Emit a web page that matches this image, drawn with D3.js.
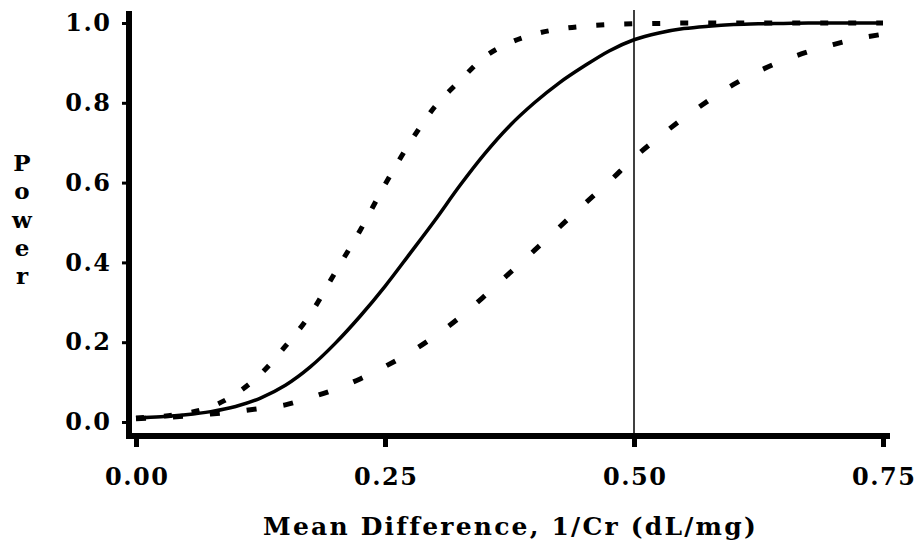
<!DOCTYPE html>
<html>
<head>
<meta charset="utf-8">
<script src="https://cdn.jsdelivr.net/npm/d3@7"></script>
<style>
	body { margin: 0; background: #fff; }
	text { font-family: 'DejaVu Serif', serif; font-weight: bold; fill: #000; }
</style>
</head>
<body>
<svg id="chart"></svg>
<script>
const WIDTH = 915,
	HEIGHT = 543;

// mean difference grid, 1/Cr (dL/mg)
const diffs = [0, 0.025, 0.05, 0.075, 0.1, 0.125, 0.15, 0.175, 0.2, 0.225, 0.25, 0.275, 0.3, 0.325, 0.35,
	0.375, 0.4, 0.425, 0.45, 0.475, 0.5, 0.525, 0.55, 0.575, 0.6, 0.625, 0.65, 0.675, 0.7, 0.725, 0.75];

// power curves
const powerMid = [0.010, 0.013, 0.018, 0.026, 0.039, 0.060, 0.092, 0.138, 0.197, 0.265, 0.340, 0.422, 0.505, 0.592, 0.672,
	0.742, 0.800, 0.850, 0.892, 0.930, 0.958, 0.975, 0.986, 0.992, 0.996, 0.998, 0.999, 1.0, 1.0, 1.0, 1.0];
const powerHigh = [0.010, 0.014, 0.022, 0.038, 0.07, 0.12, 0.19, 0.27, 0.375, 0.48, 0.595, 0.70, 0.79, 0.855, 0.915,
	0.95, 0.972, 0.985, 0.992, 0.996, 0.998, 0.999, 1.0, 1.0, 1.0, 1.0, 1.0, 1.0, 1.0, 1.0, 1.0];
const powerLow = [0.008, 0.011, 0.015, 0.02, 0.026, 0.034, 0.043, 0.061, 0.082, 0.108, 0.139, 0.174, 0.215, 0.262, 0.316,
	0.373, 0.43, 0.488, 0.546, 0.602, 0.662, 0.714, 0.762, 0.806, 0.846, 0.879, 0.906, 0.928, 0.946, 0.961, 0.972];

const xTicks = [0, 0.25, 0.5, 0.75],
	yTicks = [0, 0.2, 0.4, 0.6, 0.8, 1.0];
const refDiff = 0.5;

const svg = d3.select('svg#chart')
	.attr('width', WIDTH)
	.attr('height', HEIGHT);

const x = d3.scaleLinear().domain([0, 0.75]).range([136, 883]),
	y = d3.scaleLinear().domain([0, 1]).range([422, 23]);

// reference line
svg.append('line')
	.attr('x1', x(refDiff)).attr('x2', x(refDiff))
	.attr('y1', 10).attr('y2', 434)
	.attr('stroke', '#000')
	.attr('stroke-width', 1.5);

// curves
const line = d3.line()
	.x(d => x(d[0]))
	.y(d => y(d[1]))
	.curve(d3.curveMonotoneX);

const series = [
	{ values: powerMid, width: 3.5, dash: null },
	{ values: powerHigh, width: 5, dash: '8,20' },
	{ values: powerLow, width: 5, dash: '10,27' }
];

svg.append('g').selectAll('path')
	.data(series)
	.enter().append('path')
		.attr('d', s => line(diffs.map((d, i) => [d, s.values[i]])))
		.attr('fill', 'none')
		.attr('stroke', '#000')
		.attr('stroke-width', s => s.width)
		.attr('stroke-dasharray', s => s.dash);

// axes
const yAxis = svg.append('g')
	.attr('transform', 'translate(126,0)')
	.call(d3.axisLeft(y).tickValues(yTicks).tickFormat(d3.format('.1f')).tickSize(4).tickPadding(12));

const xAxis = svg.append('g')
	.attr('transform', 'translate(0,439)')
	.call(d3.axisBottom(x).tickValues(xTicks).tickFormat(d3.format('.2f')).tickSize(8).tickPadding(21));

[yAxis, xAxis].forEach(g => {
	g.select('.domain').remove();
	g.selectAll('.tick text')
		.attr('font-size', 24)
		.attr('font-family', null)
		.attr('letter-spacing', 1.5);
});
yAxis.selectAll('.tick text').attr('dx', 1.5);
xAxis.selectAll('.tick text').attr('dx', 0.75);
yAxis.selectAll('.tick line').attr('stroke-width', 3);
xAxis.selectAll('.tick line').attr('stroke-width', 5);

// frame lines
svg.append('line')
	.attr('x1', 129).attr('x2', 129)
	.attr('y1', 11).attr('y2', 439)
	.attr('stroke', '#000').attr('stroke-width', 6);
svg.append('line')
	.attr('x1', 126).attr('x2', 890)
	.attr('y1', 436).attr('y2', 436)
	.attr('stroke', '#000').attr('stroke-width', 6);

// titles
svg.append('text')
	.attr('x', (x.range()[0] + x.range()[1]) / 2 + 1)
	.attr('y', 535)
	.attr('text-anchor', 'middle')
	.attr('font-size', 25)
	.attr('letter-spacing', 2.2)
	.text('Mean Difference, 1/Cr (dL/mg)');

const yTitle = svg.append('text')
	.attr('text-anchor', 'middle')
	.attr('font-size', 23);
'Power'.split('').forEach((ch, i) => {
	yTitle.append('tspan')
		.attr('x', 22)
		.attr('y', 171 + i * 28.3)
		.text(ch);
});
</script>
</body>
</html>
